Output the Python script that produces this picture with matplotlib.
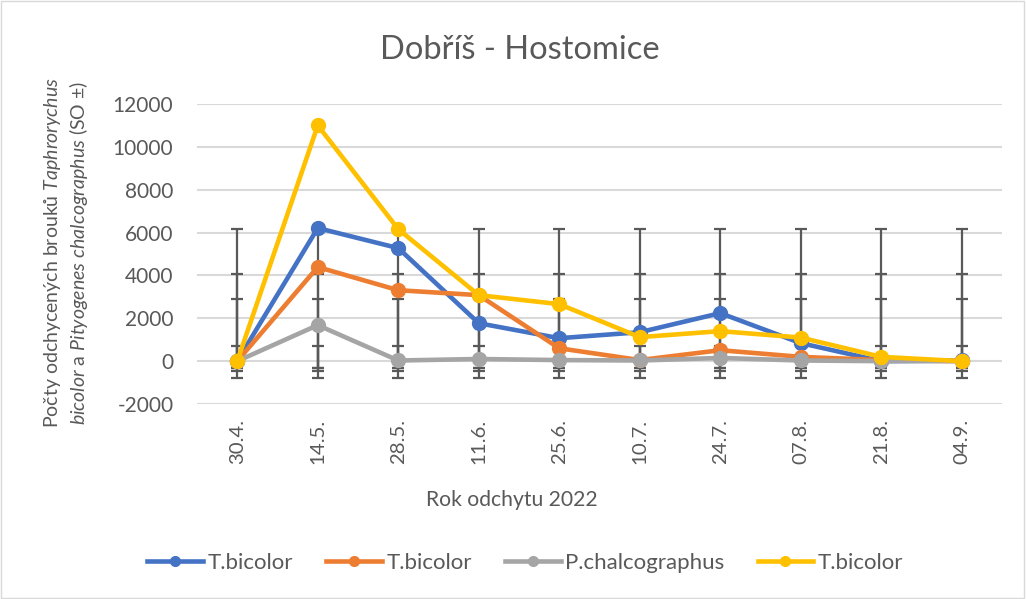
import matplotlib
matplotlib.use('Agg')
import matplotlib.pyplot as plt
import numpy as np

plt.rcParams['font.family'] = ['Lato', 'DejaVu Sans']
plt.rcParams['mathtext.fontset'] = 'custom'
plt.rcParams['mathtext.it'] = 'Lato:italic'
plt.rcParams['mathtext.rm'] = 'Lato'
plt.rcParams['axes.unicode_minus'] = False

# data
dates = ['30.4.', '14.5.', '28.5.', '11.6.', '25.6.', '10.7.', '24.7.', '07.8.', '21.8.', '04.9.']
blue = [0, 6210, 5275, 1770, 1070, 1350, 2240, 840, 0, 30]
orange = [0, 4390, 3310, 3080, 600, 50, 510, 200, 50, 0]
gray = [0, 1680, 30, 100, 50, 30, 150, 30, 0, 0]
yellow = [0, 11000, 6160, 3080, 2660, 1120, 1400, 1100, 200, 0]
labels = ['T.bicolor', 'T.bicolor', 'P.chalcographus', 'T.bicolor']
colors = ['#4472C4', '#ED7D31', '#A5A5A5', '#FFC000']

txt = '#595959'
fig = plt.figure(figsize=(10.26, 5.99), dpi=100)
ax = fig.add_axes([197/1026, 1-404/599, (1002-197)/1026, 300/599])

x = np.arange(len(dates))
series = [blue, orange, gray, yellow]

# Excel style SD error bars: centred on the series mean, +-1 SD
for s in series:
    s = np.array(s, dtype=float)
    m, sd = s.mean(), s.std(ddof=1)
    ax.errorbar(x, np.full(len(x), m), yerr=sd, fmt='none', ecolor='#595959',
                elinewidth=1.6, capsize=4, capthick=1.6, zorder=2)

for s, c, l in zip(series, colors, labels):
    ax.plot(x, s, color=c, lw=3.3, marker='o', ms=10, label=l, zorder=3)

ax.set_xlim(-0.5, 9.5)
ax.set_ylim(-2000, 12000)
ax.set_yticks(np.arange(-2000, 12001, 2000))
ax.set_xticks(x)
ax.set_xticklabels(dates, rotation=90)
ax.grid(axis='y', color='#D9D9D9', lw=1.5)
ax.set_axisbelow(True)
for sp in ax.spines.values():
    sp.set_visible(False)
ax.tick_params(length=0, colors=txt)
ax.tick_params(axis='y', pad=17, labelsize=15)
ax.tick_params(axis='x', pad=11, labelsize=14.7)

fig.text(0.507, 1-50/599, 'Dobříš - Hostomice', ha='center', va='center', fontsize=23.5, color=txt)
fig.text(0.499, 1-500/599, 'Rok odchytu 2022', ha='center', va='center', fontsize=15.2, color=txt)
fig.text(66/1026, 1-253/599,
         'Počty odchycených brouků $Taphrorychus$\n$bicolor$ a $Pityogenes\\ chalcographus$ (SO ±)',
         ha='center', va='center', rotation=90, fontsize=14, color=txt, multialignment='center',
         linespacing=1.25)

fig.legend(loc='center', bbox_to_anchor=(0.512, 1-563/599), ncol=4, frameon=False,
           fontsize=16, labelcolor=txt, handlelength=2.5, handletextpad=0.2, columnspacing=1.5,
           markerscale=0.7)

fig.patches.append(plt.Rectangle((0.001, 0.001), 0.997, 0.997, transform=fig.transFigure,
                                 fill=False, edgecolor='#D9D9D9', lw=1))
fig.savefig('out.png', dpi=100)
